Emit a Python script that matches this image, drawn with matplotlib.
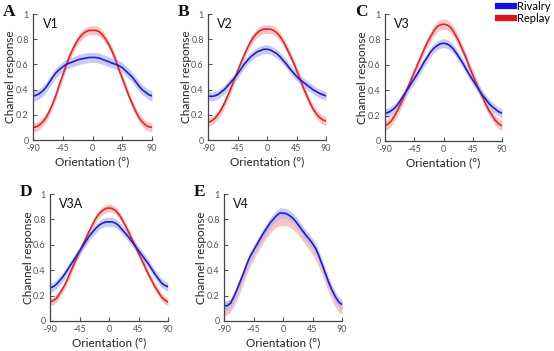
import matplotlib
matplotlib.use('Agg')
import matplotlib.pyplot as plt
import numpy as np
from matplotlib.lines import Line2D

plt.rcParams['font.family'] = ['Lato', 'DejaVu Sans']

orientation = [-90, -85, -80, -75, -70, -65, -60, -55, -50, -45, -40, -35, -30, -25, -20, -15, -10, -5, 0,
               5, 10, 15, 20, 25, 30, 35, 40, 45, 50, 55, 60, 65, 70, 75, 80, 85, 90]
xticks = [-90, -45, 0, 45, 90]
yticks = [0, 0.2, 0.4, 0.6, 0.8, 1]
ytick_labels = ['0', '0.2', '0.4', '0.6', '0.8', '1']

letters = ['A', 'B', 'C', 'D', 'E']
areas = ['V1', 'V2', 'V3', 'V3A', 'V4']

replay_v1 = [0.10, 0.105, 0.12, 0.145, 0.18, 0.23, 0.29, 0.36, 0.44, 0.515, 0.59, 0.66, 0.72, 0.77, 0.81, 0.84, 0.86, 0.87, 0.87,
             0.87, 0.86, 0.835, 0.80, 0.755, 0.70, 0.635, 0.56, 0.49, 0.42, 0.35, 0.29, 0.23, 0.18, 0.145, 0.12, 0.105, 0.10]
rivalry_v1 = [0.35, 0.355, 0.37, 0.39, 0.42, 0.46, 0.50, 0.535, 0.56, 0.58, 0.60, 0.61, 0.62, 0.63, 0.64, 0.645, 0.65, 0.655, 0.655,
              0.655, 0.65, 0.64, 0.63, 0.62, 0.61, 0.60, 0.59, 0.575, 0.55, 0.525, 0.50, 0.465, 0.43, 0.40, 0.38, 0.36, 0.35]
replay_v2 = [0.14, 0.15, 0.17, 0.20, 0.24, 0.29, 0.35, 0.41, 0.48, 0.545, 0.61, 0.67, 0.73, 0.78, 0.82, 0.85, 0.87, 0.88, 0.88,
             0.88, 0.87, 0.85, 0.82, 0.78, 0.73, 0.675, 0.62, 0.555, 0.49, 0.42, 0.36, 0.30, 0.25, 0.21, 0.18, 0.16, 0.15]
rivalry_v2 = [0.35, 0.345, 0.35, 0.36, 0.38, 0.40, 0.43, 0.46, 0.49, 0.525, 0.56, 0.60, 0.63, 0.66, 0.68, 0.70, 0.71, 0.72, 0.72,
              0.715, 0.70, 0.685, 0.66, 0.63, 0.60, 0.565, 0.535, 0.505, 0.48, 0.46, 0.44, 0.42, 0.40, 0.385, 0.37, 0.36, 0.35]
replay_v3 = [0.12, 0.135, 0.16, 0.20, 0.25, 0.30, 0.36, 0.42, 0.48, 0.54, 0.60, 0.66, 0.72, 0.775, 0.82, 0.865, 0.90, 0.915, 0.92,
             0.915, 0.90, 0.865, 0.82, 0.77, 0.71, 0.65, 0.58, 0.52, 0.46, 0.40, 0.35, 0.29, 0.24, 0.20, 0.16, 0.135, 0.12]
rivalry_v3 = [0.22, 0.225, 0.24, 0.26, 0.29, 0.33, 0.37, 0.41, 0.45, 0.49, 0.53, 0.575, 0.62, 0.66, 0.70, 0.73, 0.75, 0.765, 0.77,
              0.765, 0.75, 0.725, 0.69, 0.65, 0.61, 0.565, 0.52, 0.48, 0.44, 0.40, 0.36, 0.33, 0.295, 0.27, 0.25, 0.23, 0.22]
replay_v3a = [0.15, 0.16, 0.18, 0.22, 0.26, 0.31, 0.37, 0.43, 0.49, 0.545, 0.60, 0.655, 0.71, 0.76, 0.81, 0.845, 0.87, 0.885, 0.89,
              0.885, 0.87, 0.84, 0.80, 0.75, 0.70, 0.645, 0.59, 0.535, 0.48, 0.425, 0.37, 0.32, 0.27, 0.23, 0.19, 0.165, 0.15]
rivalry_v3a = [0.26, 0.27, 0.29, 0.32, 0.35, 0.39, 0.43, 0.47, 0.51, 0.55, 0.59, 0.63, 0.67, 0.70, 0.73, 0.755, 0.77, 0.78, 0.78,
               0.78, 0.77, 0.75, 0.72, 0.69, 0.66, 0.625, 0.59, 0.555, 0.52, 0.485, 0.45, 0.41, 0.37, 0.335, 0.30, 0.28, 0.27]
replay_v4 = [0.09, 0.10, 0.12, 0.165, 0.22, 0.285, 0.35, 0.42, 0.48, 0.53, 0.58, 0.625, 0.67, 0.705, 0.74, 0.77, 0.79, 0.80, 0.80,
             0.80, 0.79, 0.77, 0.75, 0.715, 0.68, 0.645, 0.61, 0.575, 0.53, 0.47, 0.41, 0.34, 0.27, 0.21, 0.16, 0.12, 0.10]
rivalry_v4 = [0.12, 0.12, 0.14, 0.19, 0.25, 0.315, 0.38, 0.45, 0.51, 0.555, 0.60, 0.645, 0.69, 0.73, 0.77, 0.80, 0.83, 0.85, 0.85,
              0.845, 0.83, 0.81, 0.78, 0.745, 0.71, 0.675, 0.645, 0.61, 0.57, 0.51, 0.44, 0.37, 0.30, 0.24, 0.19, 0.15, 0.13]

rivalry_sem = [0.04, 0.035, 0.035, 0.035, 0.04]
replay_sem = [0.035, 0.035, 0.04, 0.03, 0.05]

rivalry = [rivalry_v1, rivalry_v2, rivalry_v3, rivalry_v3a, rivalry_v4]
replay = [replay_v1, replay_v2, replay_v3, replay_v3a, replay_v4]

blue = '#2020c0'
blue_fill = '#b8b8f2'
red = '#d8292e'
red_fill = '#f6b9b9'
tick_color = '#555555'
label_color = '#222222'

# axes boxes in pixels: left, right, top, bottom
boxes = [(33, 152, 14, 140), (208, 326, 14, 140), (385, 502, 14, 141),
         (50, 168, 194, 321), (224, 342, 194, 321)]
W, H = 554, 351

fig = plt.figure(figsize=(W / 100, H / 100), dpi=100)

for i in range(5):
    l, r, t, b = boxes[i]
    w_px, h_px = r - l, b - t
    ax = fig.add_axes([l / W, 1 - b / H, w_px / W, h_px / H])
    x = np.array(orientation)
    rp = np.array(replay[i])
    rv = np.array(rivalry[i])
    # replay first so rivalry sits on top (V4 hides the red line)
    ax.fill_between(x, rp - replay_sem[i], rp + replay_sem[i], color=red_fill, alpha=0.85, linewidth=0)
    if i != 4:
        ax.plot(x, rp, color=red, linewidth=1.2)
    ax.fill_between(x, rv - rivalry_sem[i], rv + rivalry_sem[i], color=blue_fill, alpha=0.75, linewidth=0)
    ax.plot(x, rv, color=blue, linewidth=1.2)

    ax.set_xlim(-90, 90)
    ax.set_ylim(0, 1)
    ax.set_xticks(xticks)
    ax.set_xticklabels([str(v) for v in xticks])
    ax.set_yticks(yticks)
    ax.set_yticklabels(ytick_labels)
    ax.tick_params(direction='in', length=3, width=0.8, labelsize=6.5, colors=tick_color, pad=3)
    for s in ['top', 'right']:
        ax.spines[s].set_visible(False)
    for s in ['left', 'bottom']:
        ax.spines[s].set_color('#444444')
        ax.spines[s].set_linewidth(0.9)
    ax.set_facecolor('none')
    ax.set_ylabel('Channel response', fontsize=8.5, color=label_color, va='center')
    ax.yaxis.set_label_coords(-22 / w_px, 0.5)
    ax.set_xlabel('Orientation (°)', fontsize=8.5, color=label_color, va='center')
    ax.xaxis.set_label_coords(0.5, -22 / h_px)
    ax.text(0.08, 0.97, areas[i], transform=ax.transAxes, fontsize=9, color='#111111', va='top', ha='left')
    fig.text((l - 30) / W, 1 - (t - 10) / H, letters[i], fontsize=12.5, fontweight='bold',
             family='Liberation Serif', va='top', ha='left', color='#111111')

handles = [Line2D([0], [0], color='#1010e0', linewidth=4.5),
           Line2D([0], [0], color='#e0141c', linewidth=4.5)]
fig.legend(handles, ['Rivalry', 'Replay'], loc='upper right', bbox_to_anchor=(1.012, 1.025),
           frameon=False, fontsize=8, handlelength=1.45, handletextpad=0.25, labelspacing=0.05)

fig.savefig('out.png', dpi=100)
